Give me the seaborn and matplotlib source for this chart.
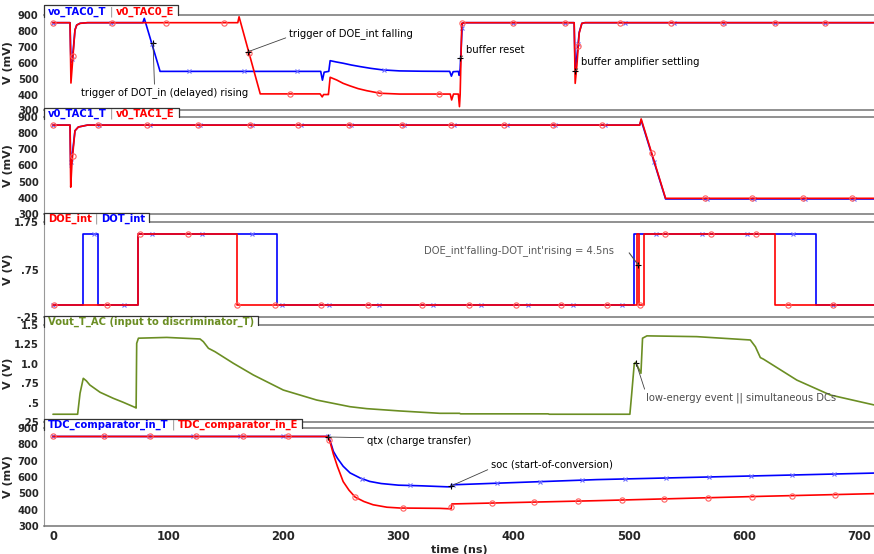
import numpy as np
import matplotlib
matplotlib.use("Agg")
import matplotlib.pyplot as plt
import seaborn as sns
from matplotlib.ticker import MultipleLocator, FixedLocator
from matplotlib.patches import Rectangle
from matplotlib.lines import Line2D
from matplotlib.transforms import IdentityTransform

RED = "#ff0000"
BLUE = "#0000ff"
OLIVE = "#6b8e23"

# ---- panel 1: vo_TAC0_T / v0_TAC0_E (mV) ----
tac0_t_time = [0, 14.8, 15.6, 17.1, 19.1, 20.6, 23.5, 30, 78, 79.3, 93, 232.5, 234, 235.5, 239.5,
               240.7, 246, 252, 259, 266.7, 276, 286.7, 301, 320, 344.5, 346, 347.5, 352, 352.8,
               353.6, 355.5, 358, 452.6, 453.5, 455, 457, 459.3, 462, 713]
tac0_t_mv = [850, 850, 600, 640, 804, 835, 846, 850, 850, 877, 545, 545, 490, 540, 545,
             612, 604, 596, 585, 575, 564, 554, 548, 546, 545, 515, 543, 545, 520,
             560, 846, 850, 850, 560, 640, 790, 846, 850, 850]
tac0_e_time = [0, 14.8, 15.6, 17.1, 19.1, 20.6, 23.5, 30, 160.5, 161.6, 180, 232, 233.8, 235,
               238.5, 239.2, 240.7, 246.4, 252, 258, 265, 272.5, 284, 301, 345, 346.2, 347.8,
               352, 353, 353.6, 355, 358, 452.6, 453.5, 455, 457, 459.3, 462, 713]
tac0_e_mv = [850, 850, 472, 616, 804, 835, 846, 850, 850, 887, 404, 404, 385, 400,
             400, 400, 508, 491, 470, 454, 437, 424, 408, 403, 403, 366, 403,
             403, 324, 400, 846, 850, 850, 470, 585, 785, 846, 850, 850]
tac0_t_marks = [0, 16.5, 50.4, 86, 118, 166, 212, 287.6, 355.3, 399.6, 444.8, 456, 497, 539.5, 583, 627, 670.7]
tac0_e_marks = [0, 17.4, 51.3, 98.2, 148.6, 170.3, 205.9, 283.2, 335.3, 355.3, 399.6, 444.8, 456.2,
                492.6, 537, 582, 627.3, 670.7]

# ---- panel 2: v0_TAC1_T / v0_TAC1_E (mV) ----
tac1_time = [0, 14.8, 15.4, 16.5, 19.1, 22, 30, 509.5, 510.8, 532, 713]
tac1_t_mv = [850, 850, 585, 650, 815, 838, 850, 850, 880, 393, 393]
tac1_e_mv = [850, 850, 466, 620, 815, 838, 850, 850, 888, 397, 397]
tac1_t_marks = [0, 16, 40, 84, 128, 173, 215, 259, 305, 348, 394, 436, 479, 522, 568, 609, 653, 696]
tac1_e_marks = [0, 17, 39, 82, 126, 171, 213, 257, 303, 346, 392, 434, 477, 520, 566, 607, 651, 694]

# ---- panel 3: DOE_int / DOT_int (V) ----
doe_time = [0, 73.6, 73.6, 159.6, 159.6, 506.8, 506.8, 509.2, 509.2, 512.9, 512.9, 627, 627, 713]
doe_v = [0, 0, 1.5, 1.5, 0, 0, 1.5, 1.5, 0, 0, 1.5, 1.5, 0, 0]
dot_time = [0, 25.8, 25.8, 38.8, 38.8, 73.6, 73.6, 194.4, 194.4, 504.8, 504.8, 663, 663, 713]
dot_v = [0, 0, 1.5, 1.5, 0, 0, 1.5, 1.5, 0, 0, 1.5, 1.5, 0, 0]
doe_marks = [0.9, 47, 75.6, 117, 160, 193, 233, 274, 320.6, 361, 402, 441, 481, 510, 531.7,
             571.7, 610.8, 638.6, 677.7]
dot_marks = [0, 35.6, 61.7, 86, 129.5, 173, 199, 240, 283.2, 330, 372, 412.7, 451.8, 494, 524,
             564, 603, 643, 677.7]

# ---- panel 4: Vout_T_AC (V) ----
vout_time = [0, 21.4, 23.5, 26.3, 29, 32, 40.9, 52.4, 61, 71, 72.2, 72.7, 74.2, 98.8, 127.7,
             130.6, 135, 140.7, 156.7, 174, 200, 229, 258, 272.5, 301.5, 336, 353, 354, 430, 431,
             501, 502.5, 504.8, 506, 510.6, 512, 515.8, 559, 605.6, 610, 614.3, 617, 646, 675, 713]
vout_v = [0.35, 0.35, 0.62, 0.813, 0.78, 0.727, 0.633, 0.555, 0.504, 0.44, 0.43, 1.264, 1.33,
          1.34, 1.32, 1.285, 1.2, 1.156, 1.006, 0.856, 0.662, 0.533, 0.447, 0.422, 0.392, 0.362,
          0.362, 0.355, 0.355, 0.35, 0.35, 0.6, 1.0, 1.02, 0.878, 1.33, 1.36, 1.35, 1.307, 1.22,
          1.08, 1.06, 0.79, 0.598, 0.47]

# ---- panel 5: TDC_comparator_in_T / _E (mV) ----
tdc_t_time = [0, 239, 241, 243.5, 247, 252, 258, 266.7, 275, 285, 300, 320, 342, 345.5, 346, 472, 617, 713]
tdc_t_mv = [848, 848, 815, 757, 715, 666, 625, 594, 573, 560, 550, 546, 540, 540, 552, 584, 608, 624]
tdc_e_time = [0, 239, 241, 243.5, 247, 252, 257, 262.4, 270, 278, 290, 301.5, 336, 345.8, 346.4,
              472, 617, 713]
tdc_e_mv = [848, 848, 805, 740, 665, 572, 520, 477, 450, 430, 415, 410, 408, 405, 435, 455, 482, 498]
tdc_t_marks = [0, 44, 83, 122, 162, 200, 239, 268, 310, 347, 386, 423, 459, 497, 532, 570, 606, 642, 678]
tdc_e_marks = [0, 44, 84, 124, 165, 204, 240, 262, 304, 346, 381, 418, 456, 494, 531, 569, 607, 642, 679]

sns.set_style("white")
plt.rcParams["font.family"] = ["DejaVu Sans"]

W, H = 874, 554
fig = plt.figure(figsize=(W / 100, H / 100), dpi=100)
rows = [(14.7, 110.5), (117, 214), (222, 317), (325, 422), (428, 526)]
axes = [fig.add_axes([44 / W, 1 - b / H, (W - 44) / W, (b - t) / H]) for t, b in rows]


def trace(ax, t, v, color, marks=None, marker="o"):
    sns.lineplot(x=t, y=v, ax=ax, color=color, lw=1.2, estimator=None, sort=False, legend=False)
    if marks is not None:
        if marker == "o":
            ax.plot(marks, np.interp(marks, t, v), ls="none", marker="o", ms=3.8, mfc="none",
                    mec="#ff6060", mew=0.8)
        else:
            ax.plot(marks, np.interp(marks, t, v), ls="none", marker="x", ms=3.4,
                    mec="#6a6aff", mew=0.8)


def note(ax, text, xy, xytext, relpos=(0, 0.5), color="k"):
    ax.annotate(text, xy=xy, xytext=xytext, fontsize=7.2, color=color, ha="left", va="center",
                arrowprops=dict(arrowstyle="-", color="0.25", lw=0.6, relpos=relpos,
                                shrinkA=0, shrinkB=0))
    ax.plot(xy[0], xy[1], marker="+", color="k", ms=4.5, mew=0.8)


# panel 1
ax = axes[0]
trace(ax, tac0_t_time, tac0_t_mv, BLUE, tac0_t_marks, "x")
trace(ax, tac0_e_time, tac0_e_mv, RED, tac0_e_marks, "o")
note(ax, "trigger of DOT_in (delayed) rising", (86.9, 723), (24.3, 410), relpos=(0.44, 1))
note(ax, "trigger of DOE_int falling", (169.4, 668), (205, 783), relpos=(0, 0.2))
note(ax, "buffer reset", (353.5, 629), (358.7, 682), relpos=(0, 0.1))
note(ax, "buffer amplifier settling", (453.4, 547), (458.6, 604), relpos=(0, 0.1))

# panel 2
ax = axes[1]
trace(ax, tac1_time, tac1_t_mv, BLUE, tac1_t_marks, "x")
trace(ax, tac1_time, tac1_e_mv, RED, tac1_e_marks, "o")

# panel 3
ax = axes[2]
trace(ax, dot_time, dot_v, BLUE, dot_marks, "x")
trace(ax, doe_time, doe_v, RED, doe_marks, "o")
ax.text(322, 1.146, "DOE_int'falling-DOT_int'rising = 4.5ns", fontsize=7.2, color="0.35",
        ha="left", va="center")
ax.annotate("", xy=(508.3, 0.845), xytext=(500.4, 1.10),
            arrowprops=dict(arrowstyle="-", color="0.3", lw=0.8, shrinkA=0, shrinkB=0))
ax.plot(508.3, 0.845, marker="+", color="k", ms=4.5, mew=0.8)

# panel 4
ax = axes[3]
trace(ax, vout_time, vout_v, OLIVE)
note(ax, "low-energy event || simultaneous DCs", (506.4, 1.01), (515, 0.563),
     relpos=(0, 0.9), color="0.3")

# panel 5
ax = axes[4]
trace(ax, tdc_t_time, tdc_t_mv, BLUE, tdc_t_marks, "x")
trace(ax, tdc_e_time, tdc_e_mv, RED, tdc_e_marks, "o")
note(ax, "qtx (charge transfer)", (238.8, 845), (272.7, 822), relpos=(0, 0.8))
note(ax, "soc (start-of-conversion)", (345.7, 545), (380.4, 675), relpos=(0, 0.15))

# axes styling
ylims = [(300, 900), (300, 900), (-0.25, 1.75), (0.25, 1.5), (300, 900)]
ylabels = ["V (mV)", "V (mV)", "V (V)", "V (V)", "V (mV)"]
for i, ax in enumerate(axes):
    ax.set_xlim(-7.8, 713)
    ax.set_ylim(*ylims[i])
    ax.set_xlabel("")
    ax.set_ylabel(ylabels[i], fontsize=8, fontweight="bold")
    ax.yaxis.set_label_coords(-0.037, 0.5)
    for s in ["top", "bottom"]:
        ax.spines[s].set_color("0.45")
        ax.spines[s].set_linewidth(1.1)
    ax.spines["right"].set_visible(False)
    ax.spines["left"].set_color("0.6")
    ax.spines["left"].set_linewidth(0.8)
    if ylabels[i] == "V (mV)":
        ax.yaxis.set_major_locator(MultipleLocator(100))
        ax.yaxis.set_minor_locator(MultipleLocator(20))
    elif i == 2:
        ax.yaxis.set_major_locator(FixedLocator([-0.25, 0.75, 1.75]))
        ax.set_yticklabels(["-.25", ".75", "1.75"])
        ax.yaxis.set_minor_locator(MultipleLocator(0.1))
    else:
        ax.yaxis.set_major_locator(FixedLocator([0.25, 0.5, 0.75, 1.0, 1.25, 1.5]))
        ax.set_yticklabels([".25", ".5", ".75", "1.0", "1.25", "1.5"])
        ax.yaxis.set_minor_locator(MultipleLocator(0.05))
    ax.tick_params(axis="y", which="major", direction="out", length=3, width=0.8, color="k",
                   labelsize=7.2, pad=1)
    ax.tick_params(axis="y", which="minor", direction="in", length=1.5, width=0.6, color="0.5")
    for lab in ax.get_yticklabels():
        lab.set_fontweight("bold")
    ax.xaxis.set_major_locator(MultipleLocator(100))
    ax.xaxis.set_minor_locator(MultipleLocator(20))
    if i < 4:
        ax.tick_params(axis="x", which="both", length=0, labelbottom=False)
    else:
        ax.tick_params(axis="x", which="major", direction="in", length=4, width=0.8,
                       color="0.3", labelsize=8.3, pad=3)
        ax.tick_params(axis="x", which="minor", direction="in", length=2.5, width=0.6, color="0.4")
        for lab in ax.get_xticklabels():
            lab.set_fontweight("bold")
        ax.set_xlabel("time (ns)", fontsize=8, fontweight="bold")
        ax.xaxis.set_label_coords(0.5, -0.19)

# legend tabs
tabs = [
    [("vo_TAC0_T", BLUE), ("v0_TAC0_E", RED)],
    [("v0_TAC1_T", BLUE), ("v0_TAC1_E", RED)],
    [("DOE_int", RED), ("DOT_int", BLUE)],
    [("Vout_T_AC (input to discriminator_T)", OLIVE)],
    [("TDC_comparator_in_T", BLUE), ("TDC_comparator_in_E", RED)],
]
TAB_FS = 7.2
tab_texts = []
for ax, items in zip(axes, tabs):
    texts = []
    first = ax.annotate(items[0][0], xy=(0, 1), xycoords="axes fraction", xytext=(4, 3),
                        textcoords="offset pixels", ha="left", va="center", fontsize=TAB_FS,
                        fontweight="bold", color=items[0][1], zorder=5)
    texts.append(first)
    prev = first
    for label, col in items[1:]:
        sep = ax.annotate("|", xy=(1, 0), xycoords=prev, xytext=(3, 0), textcoords="offset pixels",
                          ha="left", va="bottom", fontsize=TAB_FS, color="0.55", zorder=5)
        prev = ax.annotate(label, xy=(1, 0), xycoords=sep, xytext=(3, 0),
                           textcoords="offset pixels", ha="left", va="bottom", fontsize=TAB_FS,
                           fontweight="bold", color=col, zorder=5)
        texts += [sep, prev]
    tab_texts.append(texts)

fig.canvas.draw()
rend = fig.canvas.get_renderer()
for ax, texts in zip(axes, tab_texts):
    bbs = [t.get_window_extent(rend) for t in texts]
    x0, ytop = ax.transAxes.transform((0, 1))
    x1 = max(b.x1 for b in bbs) + 4
    y0 = min(b.y0 for b in bbs)
    y1 = max(b.y1 for b in bbs) + 1
    ax.add_patch(Rectangle((x0, y0), x1 - x0, y1 - y0, transform=IdentityTransform(),
                           fc="white", ec="none", zorder=4, clip_on=False))
    ax.add_line(Line2D([x0, x0, x1, x1], [y0, y1, y1, ytop], transform=IdentityTransform(),
                       color="0.2", lw=0.9, zorder=4.5, clip_on=False))

fig.savefig("out.png", dpi=100)
